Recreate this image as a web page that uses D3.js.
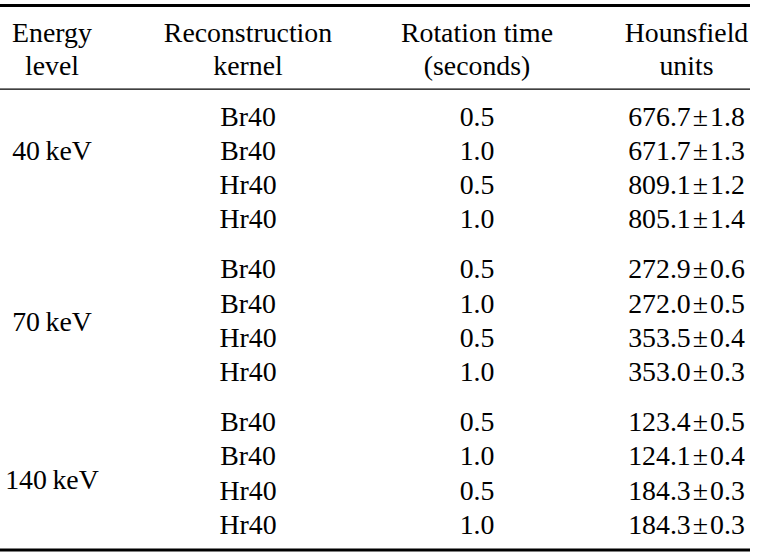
<!DOCTYPE html>
<html>
<head>
<meta charset="utf-8">
<script src="https://cdn.jsdelivr.net/npm/d3@7"></script>
<style>
  html, body { margin: 0; padding: 0; background: #fff; }
  svg { display: block; }
  text { font-family: "Liberation Serif", "Times New Roman", Times, serif; fill: #000; }
</style>
</head>
<body>
<script>
// ---- data ----
const columns = ["energy", "kernel", "rotation", "hu"];
const headerLine1 = ["Energy", "Reconstruction", "Rotation time", "Hounsfield"];
const headerLine2 = ["level", "kernel", "(seconds)", "units"];
const energyLevels = ["40\u2009keV", "70\u2009keV", "140\u2009keV"];
const kernels = ["Br40", "Br40", "Hr40", "Hr40"];
const rotationTimes = [0.5, 1.0, 0.5, 1.0];
const huMeans = [
  [676.7, 671.7, 809.1, 805.1],
  [272.9, 272.0, 353.5, 353.0],
  [123.4, 124.1, 184.3, 184.3]
];
const huSDs = [
  [1.8, 1.3, 1.2, 1.4],
  [0.6, 0.5, 0.4, 0.3],
  [0.5, 0.4, 0.3, 0.3]
];

// ---- layout ----
const W = 759, H = 558;
const fontSize = 27.8;
const groupGap = 0.485;              // extra space between groups, in row units
const labelShift = [1.0, 1.55, 1.7]; // vertical placement of energy label inside its group (row units)

const svg = d3.select("body").append("svg").attr("width", W).attr("height", H);

const x = d3.scaleOrdinal().domain(columns).range([52, 248, 477, 686.5]);
const y = d3.scaleLinear().domain([0, 1]).range([125.5, 159.6]); // slot -> baseline

const fmt = d3.format(".1f");

// build rows
const rows = [];
energyLevels.forEach((e, g) => {
  kernels.forEach((k, r) => {
    rows.push({ g, r, slot: g * (kernels.length + groupGap) + r,
      kernel: k, rot: fmt(rotationTimes[r]),
      mean: fmt(huMeans[g][r]), sd: fmt(huSDs[g][r]) });
  });
});

// rules
const rules = [
  { y: 5.5, w: 3 },
  { y: 89.2, w: 1.3 },
  { y: 550, w: 3 }
];
svg.selectAll("line.rule").data(rules).join("line")
  .attr("class", "rule")
  .attr("x1", 0).attr("x2", 750)
  .attr("y1", d => d.y).attr("y2", d => d.y)
  .attr("stroke", "#000").attr("stroke-width", d => d.w);

// header
const hdr = svg.append("g").attr("font-size", fontSize).attr("text-anchor", "middle");
hdr.selectAll("text.h1").data(columns).join("text")
  .attr("class", "h1")
  .attr("x", d => x(d)).attr("y", 41.5)
  .text((d, i) => headerLine1[i]);
hdr.selectAll("text.h2").data(columns).join("text")
  .attr("class", "h2")
  .attr("x", d => x(d)).attr("y", 74.5)
  .text((d, i) => headerLine2[i]);

// body
const body = svg.append("g").attr("font-size", fontSize).attr("text-anchor", "middle");
body.selectAll("text.energy").data(energyLevels).join("text")
  .attr("class", "energy")
  .attr("x", x("energy"))
  .attr("y", (d, g) => y(g * (kernels.length + groupGap) + labelShift[g]))
  .text(d => d);

body.selectAll("text.kernel").data(rows).join("text")
  .attr("class", "kernel")
  .attr("x", x("kernel")).attr("y", d => y(d.slot)).text(d => d.kernel);
body.selectAll("text.rot").data(rows).join("text")
  .attr("class", "rot")
  .attr("x", x("rotation")).attr("y", d => y(d.slot)).text(d => d.rot);

const hu = body.selectAll("text.hu").data(rows).join("text")
  .attr("class", "hu")
  .attr("x", x("hu")).attr("y", d => y(d.slot));
hu.append("tspan").text(d => d.mean);
hu.append("tspan").attr("dx", 2).text("\u00B1");
hu.append("tspan").attr("dx", 2).text(d => d.sd);
</script>
</body>
</html>
